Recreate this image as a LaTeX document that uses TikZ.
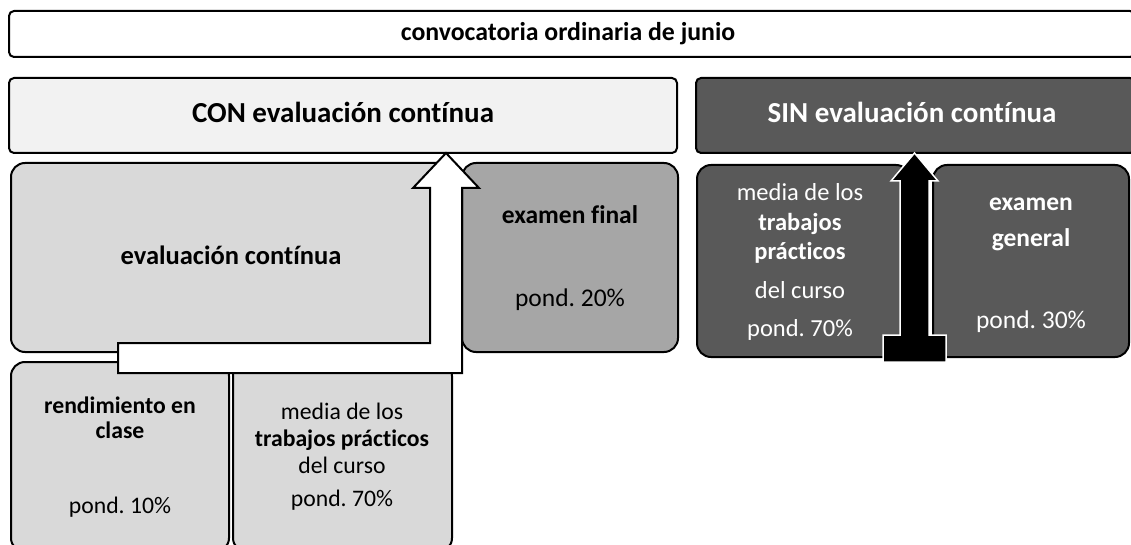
\documentclass[tikz,border=0pt]{standalone}
\usepackage{fontspec}
\setmainfont{Carlito}[Ligatures=NoCommon]
\frenchspacing
\definecolor{conbg}{HTML}{F2F2F2}
\definecolor{sinbg}{HTML}{595959}
\definecolor{evalbg}{HTML}{D9D9D9}
\definecolor{finalbg}{HTML}{A6A6A6}
% panel: name, x1, y1, x2, y2, style
\newcommand{\mkpanel}[6]{%
  \node[#6,minimum width={#4-#2},minimum height={#5-#3}] (#1) at ({(#2+#4)/2},{(#3+#5)/2}) {};}
\begin{document}
\begin{tikzpicture}[x=1pt,y=-1pt,
  panel/.style={draw=black,line width=2pt,inner sep=0pt,rounded corners=14pt},
  bar/.style={panel,rounded corners=5pt},
  txt/.style={inner sep=0pt,anchor=base}]
 \useasboundingbox (0,0) rectangle (1131,545);
 \clip (0,0) rectangle (1131,545);
 % boxes
 \mkpanel{conv}{9}{11}{1135}{57}{bar,fill=white}
 \mkpanel{con}{9}{78}{677}{153}{bar,fill=conbg}
 \mkpanel{sin}{696}{78}{1135}{153}{bar,fill=sinbg}
 \mkpanel{evalc}{11}{163}{452}{352}{panel,fill=evalbg}
 \mkpanel{final}{462}{163}{678}{352}{panel,fill=finalbg}
 \mkpanel{rend}{11}{362}{229}{552}{panel,fill=evalbg}
 \mkpanel{media}{233}{362}{452}{552}{panel,fill=evalbg}
 \mkpanel{sinmedia}{697}{165}{910}{357}{panel,fill=sinbg}
 \mkpanel{general}{933}{165}{1129}{357}{panel,fill=sinbg}
 % arrows
 \draw[line width=2pt,fill=white] (118,343) -- (430,343) -- (430,188) -- (413,188) -- (446,153) -- (479,188) -- (462,188) -- (462,373) -- (118,373) -- cycle;
 \draw[draw=white,line width=1.5pt,fill=black] (883,335) -- (900,335) -- (900,181) -- (891,181) -- (914.5,153) -- (938,181) -- (929,181) -- (929,335) -- (946,335) -- (946,362) -- (883,362) -- cycle;
 % texts
 \node[txt,font=\fontsize{25.8}{30}\selectfont\bfseries] (convtxt) at (568,41) {convocatoria ordinaria de junio};
 \node[txt,font=\fontsize{29}{34}\selectfont\bfseries] (contxt) at (343,122.5) {CON evaluación contínua};
 \node[txt,white,font=\fontsize{29}{34}\selectfont\bfseries] (sintxt) at (912,122.5) {SIN evaluación contínua};
 \node[txt,font=\fontsize{26.5}{31}\selectfont\bfseries] (evalctxt) at (231,264.5) {evaluación contínua};
 \node[txt,font=\fontsize{25.5}{30}\selectfont\bfseries] (finaltxt) at (570,224) {examen final};
 \node[txt,font=\fontsize{25.5}{30}\selectfont] (finalpond) at (570,306) {pond. 20\%};
 \foreach \ty/\tx [count=\i] in {201/media de los,231/\textbf{trabajos},259/\textbf{prácticos},298/del curso,336/pond. 70\%}
  \node[txt,white,font=\fontsize{24.5}{29}\selectfont] (sinmedia\i) at (800,\ty) {\tx};
 \foreach \ty/\tx [count=\i] in {211/\textbf{examen},246/\textbf{general},328/pond. 30\%}
  \node[txt,white,font=\fontsize{25.5}{30}\selectfont] (general\i) at (1031,\ty) {\tx};
 \foreach \ty/\tx [count=\i] in {413/\textbf{rendimiento en},438/\textbf{clase},513/pond. 10\%}
  \node[txt,font=\fontsize{23.7}{28}\selectfont] (rend\i) at (120,\ty) {\tx};
 \foreach \ty/\tx [count=\i] in {419/media de los,446/\textbf{trabajos prácticos},473/del curso,506/pond. 70\%}
  \node[txt,font=\fontsize{23.7}{28}\selectfont] (media\i) at (342,\ty) {\tx};
\end{tikzpicture}
\end{document}
